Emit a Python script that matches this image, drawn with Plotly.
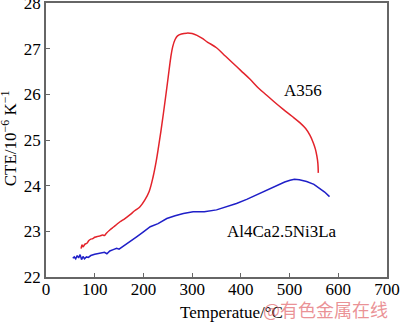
import plotly.graph_objects as go

# A356 thermal expansion coefficient vs temperature
t_a356 = [72, 74, 76, 80, 84, 88, 92, 96, 100, 106, 111, 116, 120, 124, 131, 138, 145, 152,
          162, 172, 182, 193, 203, 212, 220, 226, 231, 236, 241, 246, 251, 256, 260, 265,
          270, 278, 289, 300, 310, 320, 332, 350, 368, 385, 400, 419, 436, 453, 470, 487,
          505, 521, 533, 542, 549, 553, 556, 558, 559]
cte_a356 = [22.62, 22.70, 22.66, 22.72, 22.74, 22.80, 22.83, 22.84, 22.87, 22.89, 22.90, 22.92,
            22.91, 22.96, 23.03, 23.09, 23.15, 23.21, 23.28, 23.36, 23.45, 23.54, 23.69, 23.88,
            24.20, 24.52, 24.85, 25.20, 25.58, 25.98, 26.39, 26.80, 27.04, 27.20, 27.28, 27.32,
            27.34, 27.33, 27.29, 27.23, 27.14, 27.02, 26.84, 26.67, 26.52, 26.33, 26.14, 25.98,
            25.82, 25.67, 25.52, 25.38, 25.25, 25.10, 24.93, 24.80, 24.65, 24.50, 24.28]

# Al4Ca2.5Ni3La thermal expansion coefficient vs temperature
t_alca = [55, 58, 61, 64, 67, 70, 73, 76, 79, 83, 87, 92, 100, 111, 120, 125, 131, 138, 145,
          150, 160, 172, 186, 200, 214, 230, 248, 265, 282, 302, 325, 350, 370, 391, 412, 432,
          454, 474, 490, 501, 510, 520, 535, 550, 562, 572, 582]
cte_alca = [22.41, 22.44, 22.40, 22.47, 22.42, 22.49, 22.38, 22.45, 22.40, 22.44, 22.43, 22.47,
            22.50, 22.52, 22.54, 22.51, 22.57, 22.60, 22.63, 22.61, 22.68, 22.77, 22.88, 22.99,
            23.10, 23.17, 23.28, 23.34, 23.39, 23.43, 23.43, 23.47, 23.53, 23.61, 23.70, 23.80,
            23.91, 24.01, 24.08, 24.12, 24.14, 24.13, 24.09, 24.03, 23.94, 23.86, 23.76]

x_ticks = [0, 100, 200, 300, 400, 500, 600, 700]
y_ticks = [22, 23, 24, 25, 26, 27, 28]

SERIF = "Liberation Serif"
FRAME = "#666666"

fig = go.Figure()
fig.add_trace(go.Scatter(x=t_a356, y=cte_a356, mode="lines",
                         line=dict(color="#e3232b", width=1.5), line_shape="spline",
                         showlegend=False))
fig.add_trace(go.Scatter(x=t_alca, y=cte_alca, mode="lines",
                         line=dict(color="#1f1fc8", width=1.5),
                         showlegend=False))

axis_common = dict(showgrid=False, zeroline=False, showline=True, mirror=True,
                   linecolor=FRAME, linewidth=1.5, ticks="inside", ticklen=4,
                   tickcolor=FRAME, tickwidth=1, ticklabeloverflow="allow",
                   automargin=False,
                   tickfont=dict(family=SERIF, size=17, color="black"))

fig.update_xaxes(range=[0, 700], tickvals=x_ticks, ticklabelstandoff=-4, **axis_common)
fig.update_yaxes(range=[22, 28], tickvals=y_ticks, **axis_common)

label_font = dict(family=SERIF, size=17, color="black")
annotations = [
    dict(x=527, y=26.09, xref="x", yref="y", text="A356", showarrow=False,
         xanchor="center", yanchor="middle", font=label_font),
    dict(x=484, y=22.99, xref="x", yref="y", text="Al4Ca2.5Ni3La", showarrow=False,
         xanchor="center", yanchor="middle", font=label_font),
    dict(x=0.545, y=-0.131, xref="paper", yref="paper", text="Temperatue/°C",
         showarrow=False, xanchor="center", yanchor="middle", font=label_font),
    dict(x=-0.108, y=0.507, xref="paper", yref="paper", textangle=-90,
         text="CTE/10<sup>−6</sup> K<sup>−1</sup>", showarrow=False,
         xanchor="center", yanchor="middle", font=label_font),
    dict(x=0.821, y=-0.117, xref="paper", yref="paper", text="@有色金属在线",
         showarrow=False, xanchor="center", yanchor="middle",
         font=dict(family="Noto Sans CJK SC", size=18, color="rgba(228,110,115,0.75)")),
]

fig.update_layout(width=400, height=324, margin=dict(l=46, r=13, t=3, b=47),
                  paper_bgcolor="white", plot_bgcolor="white",
                  font=dict(family=SERIF, size=17, color="black"),
                  annotations=annotations)

fig.write_html("out.html")
